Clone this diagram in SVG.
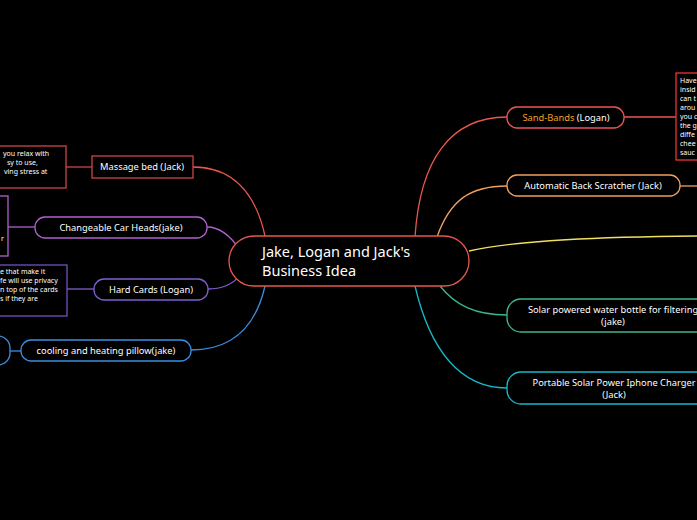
<svg xmlns="http://www.w3.org/2000/svg" width="697" height="520" viewBox="0 0 697 520">
<style>
text{font-family:"Noto Sans","Open Sans",sans-serif;fill:#fff}
.n{font-size:9.3px;text-anchor:middle}
.s{font-size:7px}
.c{fill:none;stroke-width:1.3}
rect{fill:#000;stroke-width:1.3}
</style>
<rect x="0" y="0" width="697" height="520" style="fill:#000;stroke:none"/>
<g id="connectors" class="c">
<path d="M415,237 C420,160 450,117 507,117" stroke="#e8574e"/>
<path d="M437,237 C450,200 470,186 507,186" stroke="#f0a060"/>
<path d="M469,251 C520,240 600,237 697,236" stroke="#f0e060"/>
<path d="M440,286 C455,305 475,315 507,315" stroke="#3cb88a"/>
<path d="M415,286 C430,350 460,388 507,388" stroke="#18b8c8"/>
<path d="M265,236 C255,190 230,167 193,167" stroke="#e8574e"/>
<path d="M240,250 C230,235 220,227 207,227" stroke="#b060d0"/>
<path d="M240,275 C233,285 220,289 208,289" stroke="#8060d0"/>
<path d="M265,286 C255,330 230,350 191,350" stroke="#3a8ee0"/>
<path d="M624,117 H676" stroke="#e55"/>
<path d="M680,186 H697" stroke="#f0a060"/>
<path d="M66,167 H92" stroke="#d04444"/>
<path d="M8,227 H35" stroke="#b060d0"/>
<path d="M67,289 H94" stroke="#8060d0"/>
<path d="M10,351 H21" stroke="#3a8ee0"/>
</g>
<g id="center"><rect x="229" y="236" width="240" height="50" rx="25" stroke="#e8574e" stroke-width="2"/>
<text x="262" y="257" style="font-size:14.5px">Jake, Logan and Jack's</text><text x="262" y="276" style="font-size:14.5px">Business Idea</text></g>
<g id="sand"><rect x="507" y="107" width="117" height="21" rx="10" stroke="#e55"/>
<text class="n" x="566" y="121"><tspan style="fill:#f5a020">Sand-Bands</tspan> (Logan)</text></g>
<g id="sandnote"><rect x="676" y="73" width="30" height="87" stroke="#e33" fill="#000"/>
<text class="s" x="680" y="83">Have</text><text class="s" x="680" y="92">insid</text><text class="s" x="680" y="101">can t</text><text class="s" x="680" y="110">arou</text><text class="s" x="680" y="119">you c</text><text class="s" x="680" y="128">the g</text><text class="s" x="680" y="137">diffe</text><text class="s" x="680" y="146">chee</text><text class="s" x="680" y="155">sauc</text></g>
<g id="scratch"><rect x="507" y="175" width="173" height="21" rx="10" stroke="#f0a060"/>
<text class="n" x="593" y="189">Automatic Back Scratcher (Jack)</text></g>
<g id="solar"><rect x="507" y="299" width="210" height="33" rx="14" stroke="#3cb88a"/>
<text class="n" x="613" y="313">Solar powered water bottle for filtering</text><text class="n" x="613" y="325">(jake)</text></g>
<g id="charger"><rect x="507" y="372" width="210" height="32" rx="14" stroke="#18b8c8"/>
<text class="n" x="614" y="386">Portable Solar Power Iphone Charger</text><text class="n" x="614" y="398">(Jack)</text></g>
<g id="massage"><rect x="92" y="156" width="101" height="22" stroke="#d04444"/>
<text class="n" x="142" y="170">Massage bed (Jack)</text></g>
<g id="massagenote"><rect x="-10" y="146" width="76" height="42" stroke="#d04444"/>
<text class="s" x="3" y="156">you relax with</text><text class="s" x="7" y="165">sy to use,</text><text class="s" x="4" y="174">ving stress at</text></g>
<g id="car"><rect x="35" y="217" width="172" height="21" rx="10" stroke="#b060d0"/>
<text class="n" x="121" y="231">Changeable Car Heads(jake)</text></g>
<g id="carnote"><rect x="-10" y="196" width="18" height="60" stroke="#b060d0"/>
<text class="s" x="1" y="241">r</text></g>
<g id="hard"><rect x="94" y="279" width="114" height="21" rx="10" stroke="#8060d0"/>
<text class="n" x="151" y="293">Hard Cards (Logan)</text></g>
<g id="hardnote"><rect x="-10" y="265" width="77" height="51" stroke="#7050c0"/>
<text class="s" x="0" y="274">e that make it</text><text class="s" x="0" y="283">fe will use privacy</text><text class="s" x="0" y="292">n top of the cards</text><text class="s" x="0" y="301">s if they are</text></g>
<g id="pillow"><rect x="21" y="340" width="170" height="21" rx="10" stroke="#3a8ee0"/>
<text class="n" x="106" y="354">cooling and heating pillow(jake)</text></g>
<g id="pillownote"><rect x="-20" y="336" width="30" height="29" rx="12" stroke="#3a8ee0"/></g>
</svg>
